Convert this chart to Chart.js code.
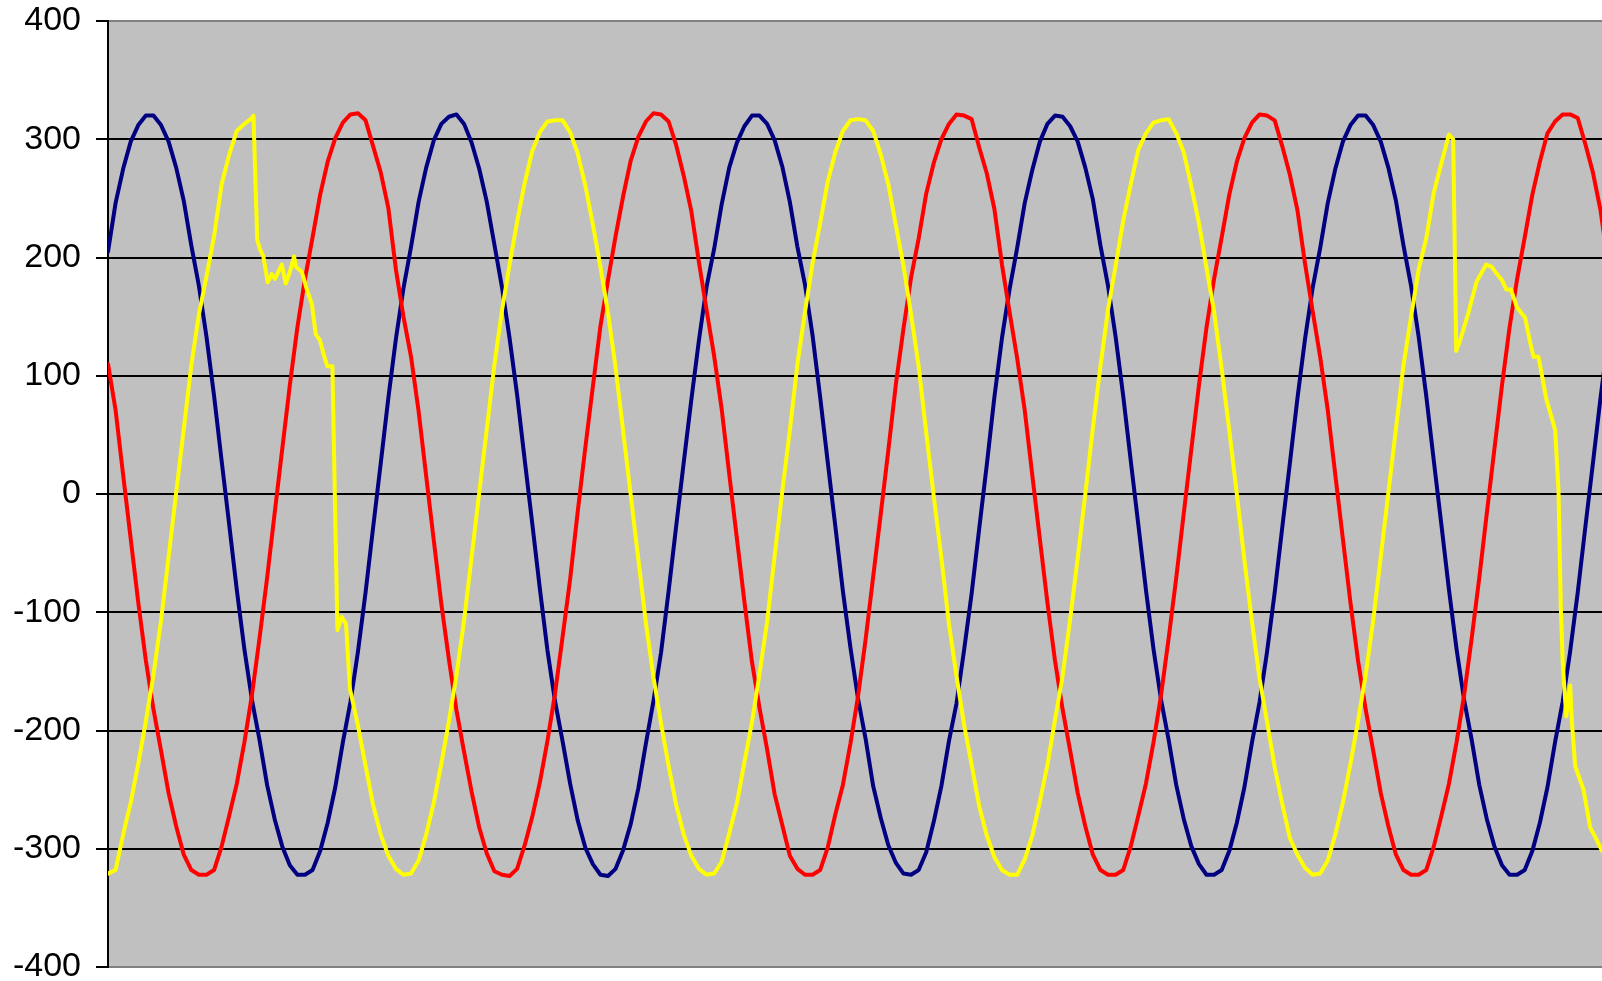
<!DOCTYPE html>
<html>
<head>
<meta charset="utf-8">
<script src="https://cdn.jsdelivr.net/npm/chart.js@4.4.0/dist/chart.umd.min.js"></script>
<style>
html,body{margin:0;padding:0;background:#ffffff;overflow:hidden}
#wrap{position:relative;width:1602px;height:981px}
</style>
</head>
<body>
<div id="wrap"><canvas id="c" width="1602" height="981"></canvas></div>
<script>
// time axis (ms), common sampling for the two undisturbed phases
const timeMs = [
0,0.5,1,1.5,2,2.5,3,3.5,4,4.5,5,5.5,6,6.5,7,7.5,8,8.5,9,9.5,
10,10.5,11,11.5,12,12.5,13,13.5,14,14.5,15,15.5,16,16.5,17,17.5,18,18.5,19,19.5,
20,20.5,21,21.5,22,22.5,23,23.5,24,24.5,25,25.5,26,26.5,27,27.5,28,28.5,29,29.5,
30,30.5,31,31.5,32,32.5,33,33.5,34,34.5,35,35.5,36,36.5,37,37.5,38,38.5,39,39.5,
40,40.5,41,41.5,42,42.5,43,43.5,44,44.5,45,45.5,46,46.5,47,47.5,48,48.5,49,49.5,
50,50.5,51,51.5,52,52.5,53,53.5,54,54.5,55,55.5,56,56.5,57,57.5,58,58.5,59,59.5,
60,60.5,61,61.5,62,62.5,63,63.5,64,64.5,65,65.5,66,66.5,67,67.5,68,68.5,69,69.5,
70,70.5,71,71.5,72,72.5,73,73.5,74,74.5,75,75.5,76,76.5,77,77.5,78,78.5,79,79.5,
80,80.5,81,81.5,82,82.5,83,83.5,84,84.5,85,85.5,86,86.5,87,87.5,88,88.5,89,89.5,
90,90.5,91,91.5,92,92.5,93,93.5,94,94.5,95,95.5,96,96.5,97,97.5,98,98.5,99
];

// navy phase (V)
const phaseBlue = [
205,246,275,298,312,320,320,312,298,276,248,210,176,133,83,28,-26,-81,-131,-174,-208,-246,-275,-298,-314,-322,-322,-318,-302,-278,-248,-210,-176,-133,-83,-28,26,81,131,174,
209,247,276,299,313,319,321,313,297,275,247,211,175,132,84,29,-25,-80,-132,-175,-209,-245,-276,-299,-313,-322,-323,-317,-301,-279,-249,-211,-175,-134,-82,-27,27,80,130,175,
207,245,276,297,311,320,320,313,299,277,247,209,177,134,82,27,-27,-82,-130,-173,-207,-247,-274,-297,-312,-321,-322,-318,-303,-277,-247,-209,-177,-132,-84,-29,25,82,132,173,
208,246,274,298,313,320,319,311,298,276,249,210,176,133,83,28,-26,-81,-131,-174,-208,-246,-275,-298,-313,-322,-322,-318,-302,-278,-248,-210,-176,-133,-83,-28,26,81,131,174,
208,246,275,298,312,320,320,312,298,276,248,210,176,133,83,28,-26,-81,-131,-174,-208,-246,-275,-298,-314,-322,-322,-318,-302,-278,-248,-210,-176,-133,-83,-28,26,81,131
];

// red phase (V)
const phaseRed = [
110,71,16,-38,-92,-141,-182,-217,-253,-281,-305,-318,-322,-322,-318,-298,-272,-245,-210,-170,-122,-71,-16,38,92,141,182,217,253,281,301,314,321,322,316,294,272,242,190,150,
116,70,15,-39,-93,-140,-183,-218,-252,-282,-304,-319,-322,-323,-317,-297,-273,-244,-209,-169,-121,-72,-15,39,91,142,181,218,252,282,302,315,322,321,315,295,269,239,196,156,
117,72,17,-37,-91,-142,-181,-216,-254,-280,-306,-317,-322,-322,-318,-299,-271,-246,-211,-171,-123,-70,-17,37,93,140,183,216,254,280,300,313,321,320,317,293,271,241,194,154,
115,71,16,-38,-92,-141,-182,-217,-253,-281,-305,-318,-322,-322,-318,-298,-272,-245,-210,-170,-122,-71,-16,38,92,141,182,217,253,281,301,314,321,320,316,294,270,240,195,155,
116,71,16,-38,-92,-141,-182,-217,-253,-281,-305,-318,-322,-322,-318,-298,-272,-245,-210,-170,-122,-71,-16,38,92,141,182,217,253,281,305,315,321,321,318,296,272,240,195
];

// yellow phase: own time stamps (extra samples around the two disturbances)
const yellowTime = [
0,0.5,1,1.5,2,2.5,3,3.5,4,4.5,5,5.5,6,6.5,7,7.5,8,8.5,9,9.5,9.6,
9.85,10.03,10.25,10.54,10.8,11.02,11.47,11.73,12.01,12.28,12.41,12.79,13.12,13.45,13.71,13.99,14.26,14.48,14.81,15.14,15.43,15.71,15.97,
16.5,17,17.5,18,18.5,19,19.5,
20,20.5,21,21.5,22,22.5,23,23.5,24,24.5,25,25.5,26,26.5,27,27.5,28,28.5,29,29.5,
30,30.5,31,31.5,32,32.5,33,33.5,34,34.5,35,35.5,36,36.5,37,37.5,38,38.5,39,39.5,
40,40.5,41,41.5,42,42.5,43,43.5,44,44.5,45,45.5,46,46.5,47,47.5,48,48.5,49,49.5,
50,50.5,51,51.5,52,52.5,53,53.5,54,54.5,55,55.5,56,56.5,57,57.5,58,58.5,59,59.5,
60,60.5,61,61.5,62,62.5,63,63.5,64,64.5,65,65.5,66,66.5,67,67.5,68,68.5,69,69.5,
70,70.5,71,71.5,72,72.5,73,73.5,74,74.5,75,75.5,76,76.5,77,77.5,78,78.5,79,79.5,
80,80.5,81,81.5,82,82.5,83,83.5,84,84.5,85,85.5,86,86.5,87,87.5,88,88.5,88.78,
88.98,89.24,89.78,90,90.34,90.96,91.33,91.55,91.99,92.28,92.59,92.98,93.53,93.86,94.08,94.41,94.93,95.51,95.73,95.88,96.01,96.24,96.5,96.61,96.83,97.38,97.82,98.15,98.61,99
];
const phaseYellow = [
-321,-318,-288,-261,-228,-192,-153,-107,-53,1,55,109,152,184,218,262,287,307,313,318,320,
215,207,201,179,186,182,194,178,188,201,192,188,173,161,135,130,117,108,108,-115,-104,-110,-165,
-196,-230,-263,-288,-306,-317,-322,
-321,-310,-288,-261,-228,-192,-153,-107,-53,1,55,109,155,194,230,263,290,306,315,316,
316,306,288,261,228,192,153,107,53,-1,-55,-109,-155,-194,-230,-263,-288,-306,-317,-322,
-321,-311,-287,-262,-227,-193,-152,-108,-52,2,54,110,154,195,229,264,289,307,316,317,
316,307,287,262,227,193,152,108,52,-2,-54,-110,-154,-195,-229,-264,-289,-307,-318,-322,
-322,-309,-289,-260,-229,-191,-154,-106,-54,0,56,108,156,193,231,262,291,305,314,316,
317,305,289,260,229,191,154,106,54,0,-56,-108,-156,-193,-231,-262,-291,-305,-316,-322,
-321,-310,-288,-261,-228,-192,-153,-107,-53,1,55,109,150,190,216,255,280,304,300,
121,130,153,164,180,194,192,188,181,173,173,158,149,128,116,116,80,54,3,-95,-143,-188,-162,-192,-230,-250,-282,-290,-302,-308
];

const yTicks = [400,300,200,100,0,-100,-200,-300,-400];

const plotBackground = {
  id:'plotBackground',
  beforeDraw(chart){
    const {ctx, chartArea:a} = chart;
    ctx.save();
    ctx.fillStyle = '#C0C0C0';
    ctx.fillRect(a.left, a.top, a.right - a.left, a.bottom - a.top);
    ctx.restore();
  }
};

const toXY = (ts, vs) => ts.map((t,i)=>({x:t, y:vs[i]}));
const lineStyle = {borderWidth:4, pointRadius:0, pointHoverRadius:0, tension:0, fill:false, borderJoinStyle:'round', borderCapStyle:'round'};

new Chart(document.getElementById('c'), {
  type:'line',
  data:{datasets:[
    Object.assign({label:'L3', data:toXY(yellowTime, phaseYellow), borderColor:'#FFFF00'}, lineStyle),
    Object.assign({label:'L2', data:toXY(timeMs, phaseRed), borderColor:'#FF0000'}, lineStyle),
    Object.assign({label:'L1', data:toXY(timeMs, phaseBlue), borderColor:'#000080'}, lineStyle)
  ]},
  options:{
    responsive:false,
    devicePixelRatio:1,
    animation:false,
    events:[],
    layout:{padding:{top:21, bottom:14, left:0, right:0}},
    plugins:{legend:{display:false}, tooltip:{enabled:false}},
    scales:{
      x:{type:'linear', min:0, max:98.6, display:false},
      y:{
        min:-400, max:400,
        afterBuildTicks(s){ s.ticks = yTicks.map(v=>({value:v})); },
        afterFit(s){ s.width = 108; s.paddingTop = 0; s.paddingBottom = 0; },
        ticks:{color:'#000000', padding:15, font:{family:'"Liberation Sans", Arial, sans-serif', size:34}},
        grid:{
          color:(c)=> (Math.abs(c.tick.value)===400 ? '#808080' : '#000000'),
          lineWidth:2, tickLength:12, tickColor:'#000000', tickWidth:2, drawTicks:true
        },
        border:{display:true, color:'#000000', width:2}
      }
    }
  },
  plugins:[plotBackground]
});
</script>
</body>
</html>
